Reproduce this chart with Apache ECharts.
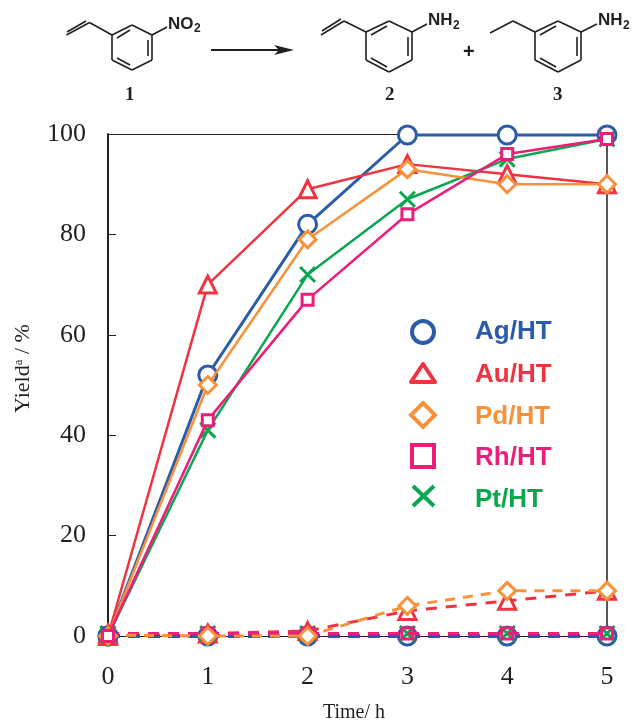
<!DOCTYPE html>
<html><head><meta charset="utf-8">
<style>html,body{margin:0;padding:0;background:#fff}#c{width:632px;height:721px}</style>
<script src="https://cdn.jsdelivr.net/npm/echarts@6/dist/echarts.min.js"></script>
</head><body><div id="c"></div>
<script>
const hours=[0,1,2,3,4,5];
const xTicks=[0,1,2,3,4,5];
const agSolid=[0,52,82,99.8,99.8,99.8];
const auSolid=[0,70,89,94,92,90];
const pdSolid=[0,50,79,93,90,90];
const rhSolid=[0,43,67,84,96,99];
const ptSolid=[0,41,72,87,95,99];
const agDash=[0,0,0,0,0,0];
const auDash=[0.5,0.5,1,5,7,9];
const pdDash=[0.2,0,0,6,9,9];
const rhDash=[0.5,0.5,0.5,0.5,0.5,0.5];
const ptDash=[0.5,0.5,0.5,0.5,0.5,0.5];
const names=['Ag/HT','Au/HT','Pd/HT','Rh/HT','Pt/HT'];
const cAg='#2b5ca8',cAu='#ef3340',cPd='#f7923a',cRh='#ec1e79',cPt='#0aa650',ink='#231f20';
const X='path://M-1 -1L1 1M-1 1L1 -1';
const tri='path://M0 -1.1L1.1 0.8L-1.1 0.8Z';
function pts(v){return v.map((y,i)=>[hours[i],y]);}
function s(name,data,color,symbol,size,dash,lw,z,fill){
  return {type:'line',name:name,data:pts(data),z:z,symbol:symbol,symbolSize:size,showSymbol:true,
    lineStyle:{color:color,width:lw,type:dash?dash:'solid'},
    itemStyle:{color:fill||'#fff',borderColor:color,borderWidth:3,opacity:1},
    emphasis:{disabled:true},animation:false,clip:false};
}
const none='rgba(0,0,0,0)';
const series=[
  s('Ag/HT',agDash,cAg,'circle',18,[12,8],4,2),
  s('Au/HT',auDash,cAu,tri,17,[11,9],3,3),
  s('Pt/HT',ptDash,cPt,X,15,[11,9],3,4,none),
  s('Rh/HT',rhDash,cRh,'rect',11,[11,9],3,5,none),
  s('Pd/HT',pdDash,cPd,'diamond',17,[10,8],3,6),
  s('Ag/HT',agSolid,cAg,'circle',18,false,3,7),
  s('Au/HT',auSolid,cAu,tri,17,false,2.5,8),
  s('Pt/HT',ptSolid,cPt,X,15,false,2.5,9,none),
  s('Pd/HT',pdSolid,cPd,'diamond',17,false,2.5,10),
  s('Rh/HT',rhSolid,cRh,'rect',11,false,2.5,11)
];
const L=(x1,y1,x2,y2,w)=>({type:'line',shape:{x1,y1,x2,y2},style:{stroke:ink,lineWidth:w||1.6}});
function mol(cx,kind){
  const t=kind==='n'?25:21,u=kind==='n'?35:32,d=60,b=kind==='n'?70:72,h=kind==='n'?20:23;
  return [L(cx,t,cx+h,u),L(cx+h,u,cx+h,d),L(cx+h,d,cx,b),L(cx,b,cx-h,d),L(cx-h,d,cx-h,u),L(cx-h,u,cx,t),
    L(cx-h+5,u+3,cx-2,t+5),L(cx+h-4,u+5,cx+h-4,d-4),L(cx-h+5,d-2,cx-2,b-5)];
}
const g=[
  ...mol(132,'n'),...mol(389,'a'),...mol(558,'a'),
  L(112,35,89.5,22.5),L(89.5,22.5,66.5,35),L(86,21,67,32),L(152,35,167,27),
  L(366,32,344,21),L(344,21,321,35),L(341,19,322,31),L(412,32,427,24),
  L(535,32,513,21),L(513,21,490,33),L(581,32,597,24),
  L(211,50,282,50,2),
  {type:'polygon',shape:{points:[[294,50],[274,45],[279,50],[274,55]]},style:{fill:ink}}
];
function txt(x,y,t,font,fill){return {type:'text',x,y,style:{text:t,font,fill,textVerticalAlign:'middle'}};}
const sans='bold 17px "Liberation Sans"',sub='bold 12px "Liberation Sans"',num='bold 19px "Liberation Serif"';
g.push(txt(168,24,'NO',sans,ink),txt(194,29,'2',sub,ink));
g.push(txt(428,20,'NH',sans,ink),txt(453,26,'2',sub,ink));
g.push(txt(598,20,'NH',sans,ink),txt(623,26,'2',sub,ink));
g.push(txt(125,95,'1',num,ink),txt(385,95,'2',num,ink),txt(553,95,'3',num,ink));
g.push(txt(463,52,'+','bold 20px "Liberation Sans"',ink));
const legY=[332,375,417,458,500],legCol=[cAg,cAu,cPd,cRh,cPt];
const legFont='bold 26px "Liberation Sans"';
names.forEach((n,i)=>g.push(txt(475,legY[i],n,legFont,legCol[i])));
const sx=423;
g.push({type:'circle',shape:{cx:sx,cy:332,r:11},style:{fill:'#fff',stroke:cAg,lineWidth:4}});
g.push({type:'polygon',shape:{points:[[sx,364],[sx+12,382],[sx-12,382]]},style:{fill:'#fff',stroke:cAu,lineWidth:4,lineJoin:'round'}});
g.push({type:'polygon',shape:{points:[[sx,403],[sx+12,415],[sx,427],[sx-12,415]]},style:{fill:'#fff',stroke:cPd,lineWidth:4}});
g.push({type:'rect',shape:{x:sx-11,y:445,width:22,height:22},style:{fill:'#fff',stroke:cRh,lineWidth:4}});
g.push({type:'line',shape:{x1:sx-10,y1:486,x2:sx+11,y2:506},style:{stroke:cPt,lineWidth:4}});
g.push({type:'line',shape:{x1:sx+11,y1:486,x2:sx-10,y2:506},style:{stroke:cPt,lineWidth:4}});
const chart=echarts.init(document.getElementById('c'),null,{renderer:'canvas'});
chart.setOption({animation:false,backgroundColor:'#fff',
  grid:{left:108,right:25,top:134,bottom:85,containLabel:false,show:false,outerBoundsMode:'none'},
  xAxis:{type:'value',min:0,max:5,interval:1,name:'Time/ h',nameLocation:'middle',nameGap:67,
    nameTextStyle:{fontFamily:'Liberation Serif',fontSize:20,color:ink,padding:[0,7,0,0]},
    axisLine:{show:true,lineStyle:{color:ink,width:1}},axisTick:{show:false},splitLine:{show:false},
    axisLabel:{formatter:v=>xTicks[v],fontFamily:'Liberation Serif',fontSize:26,color:ink,margin:28}},
  yAxis:{type:'value',min:0,max:100,interval:20,name:'Yield{s|a} / %',nameLocation:'middle',nameGap:74,
    nameTextStyle:{fontFamily:'Liberation Serif',fontSize:22,color:ink,padding:[0,0,0,33],
      rich:{s:{fontFamily:'Liberation Serif',fontSize:13,color:ink,padding:[0,0,8,0]}}},
    axisLine:{show:true,lineStyle:{color:ink,width:2}},
    axisTick:{show:true,inside:true,length:8,lineStyle:{color:ink,width:1}},splitLine:{show:false},
    axisLabel:{fontFamily:'Liberation Serif',fontSize:26,color:ink,margin:22}},
  series:series,
  graphic:{elements:[
    {type:'line',shape:{x1:108,y1:134.5,x2:607,y2:134.5},style:{stroke:ink,lineWidth:1},z:1},
    {type:'line',shape:{x1:607,y1:134,x2:607,y2:636},style:{stroke:ink,lineWidth:1.5},z:1},
    ...g]}
});
</script></body></html>
